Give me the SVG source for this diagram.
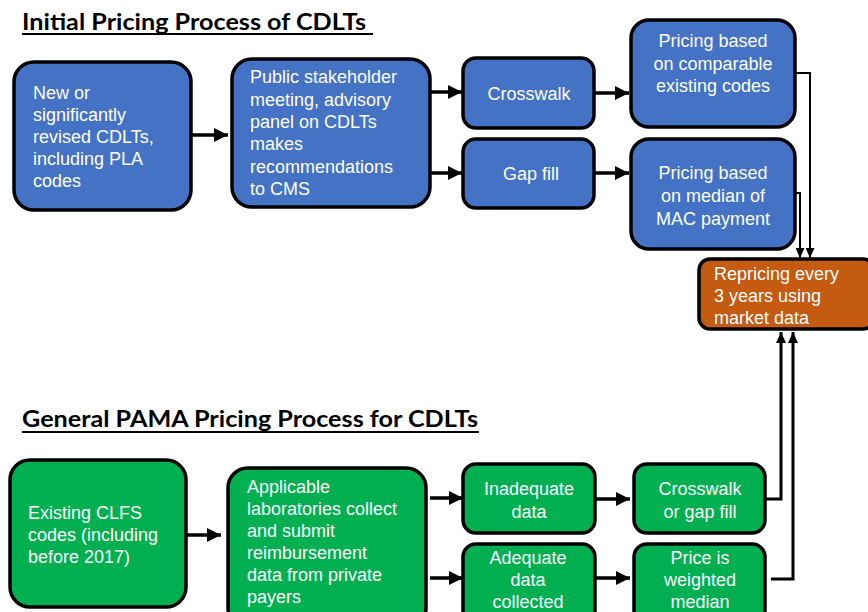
<svg xmlns="http://www.w3.org/2000/svg" width="868" height="612" viewBox="0 0 868 612">
<defs>
<style>
.title{font-family:Lato,"Open Sans","Liberation Sans",sans-serif;font-weight:bold;font-size:23px;fill:#000}
.box{stroke:#000;stroke-width:3.5}
.blue{fill:#4472C4}
.green{fill:#00B050}
.orange{fill:#C55A11}
.t{font-family:"Liberation Sans",Arial,sans-serif;font-size:18px;fill:#fff}
.c{text-anchor:middle}
.thick{stroke:#000;stroke-width:3.5;fill:none}
.thin{stroke:#000;stroke-width:2;fill:none}
.up{stroke:#000;stroke-width:3;fill:none}
</style>
<marker id="ah" viewBox="0 0 14 14" markerWidth="14" markerHeight="14" refX="14" refY="7" orient="auto" markerUnits="userSpaceOnUse"><path d="M0,0 L14,7 L0,14 Z" fill="#000"/></marker>
<marker id="ahs" viewBox="0 0 10 9" markerWidth="10" markerHeight="9" refX="10" refY="4.5" orient="auto" markerUnits="userSpaceOnUse"><path d="M0,0 L10,4.5 L0,9 Z" fill="#000"/></marker>
<marker id="ahu" viewBox="0 0 11 10" markerWidth="11" markerHeight="10" refX="11" refY="5" orient="auto" markerUnits="userSpaceOnUse"><path d="M0,0 L11,5 L0,10 Z" fill="#000"/></marker>
</defs>
<rect width="868" height="612" fill="#fff"/>

<g id="titles">
<text class="title" x="22" y="29.5" textLength="344" lengthAdjust="spacingAndGlyphs">Initial Pricing Process of CDLTs</text>
<line x1="22" y1="34" x2="373" y2="34" stroke="#000" stroke-width="2"/>
<text class="title" x="22" y="427" textLength="456" lengthAdjust="spacingAndGlyphs">General PAMA Pricing Process for CDLTs</text>
<line x1="22" y1="432" x2="479" y2="432" stroke="#000" stroke-width="2"/>
</g>

<g id="connectors">
<line class="thick" x1="192" y1="135" x2="228" y2="135" marker-end="url(#ah)"/>
<line class="thick" x1="430" y1="92" x2="462" y2="92" marker-end="url(#ah)"/>
<line class="thick" x1="430" y1="173" x2="462" y2="173" marker-end="url(#ah)"/>
<line class="thick" x1="595" y1="93" x2="629" y2="93" marker-end="url(#ah)"/>
<line class="thick" x1="595" y1="173" x2="629" y2="173" marker-end="url(#ah)"/>
<polyline class="thin" points="795,73 810,73 810,258" marker-end="url(#ahs)"/>
<polyline class="thin" points="796,193 800,193 800,258" marker-end="url(#ahs)"/>
<line class="thick" x1="187" y1="535" x2="221" y2="535" marker-end="url(#ah)"/>
<line class="thick" x1="430" y1="498" x2="463" y2="498" marker-end="url(#ah)"/>
<line class="thick" x1="430" y1="578" x2="463" y2="578" marker-end="url(#ah)"/>
<line class="thick" x1="596" y1="499" x2="630" y2="499" marker-end="url(#ah)"/>
<line class="thick" x1="596" y1="578" x2="630" y2="578" marker-end="url(#ah)"/>
<polyline class="up" points="766,499 781,499 781,332" marker-end="url(#ahu)"/>
<polyline class="up" points="771,579 793,579 793,332" marker-end="url(#ahu)"/>
</g>

<g id="n1">
<rect class="box blue" x="14" y="62" width="177" height="148" rx="20"/>
<text class="t" x="33"><tspan x="33" y="99">New or</tspan><tspan x="33" y="121">significantly</tspan><tspan x="33" y="143">revised CDLTs,</tspan><tspan x="33" y="165">including PLA</tspan><tspan x="33" y="187">codes</tspan></text>
</g>
<g id="n2">
<rect class="box blue" x="232" y="59" width="198" height="148" rx="20"/>
<text class="t"><tspan x="250" y="83">Public stakeholder</tspan><tspan x="250" y="105.5">meeting, advisory</tspan><tspan x="250" y="128">panel on CDLTs</tspan><tspan x="250" y="150">makes</tspan><tspan x="250" y="172.5">recommendations</tspan><tspan x="250" y="195">to CMS</tspan></text>
</g>
<g id="n3">
<rect class="box blue" x="463" y="58" width="131" height="70" rx="13"/>
<text class="t c" x="529" y="100">Crosswalk</text>
</g>
<g id="n4">
<rect class="box blue" x="463" y="139" width="131" height="69" rx="13"/>
<text class="t c" x="531" y="180">Gap fill</text>
</g>
<g id="n5">
<rect class="box blue" x="631" y="20" width="164" height="107" rx="18"/>
<text class="t c"><tspan x="713" y="47">Pricing based</tspan><tspan x="713" y="70">on comparable</tspan><tspan x="713" y="92">existing codes</tspan></text>
</g>
<g id="n6">
<rect class="box blue" x="631" y="139" width="164" height="110" rx="18"/>
<text class="t c"><tspan x="713" y="179">Pricing based</tspan><tspan x="713" y="202">on median of</tspan><tspan x="713" y="225">MAC payment</tspan></text>
</g>
<g id="n7">
<rect class="box orange" x="699" y="259" width="175" height="70" rx="11"/>
<text class="t"><tspan x="714" y="280">Repricing every</tspan><tspan x="714" y="302">3 years using</tspan><tspan x="714" y="324">market data</tspan></text>
</g>

<g id="m1">
<rect class="box green" x="10" y="460" width="176" height="147" rx="20"/>
<text class="t"><tspan x="28" y="519">Existing CLFS</tspan><tspan x="28" y="541">codes (including</tspan><tspan x="28" y="563">before 2017)</tspan></text>
</g>
<g id="m2">
<rect class="box green" x="228" y="468" width="198" height="160" rx="20"/>
<text class="t"><tspan x="247" y="493">Applicable</tspan><tspan x="247" y="515">laboratories collect</tspan><tspan x="247" y="537">and submit</tspan><tspan x="247" y="559">reimbursement</tspan><tspan x="247" y="581">data from private</tspan><tspan x="247" y="603">payers</tspan></text>
</g>
<g id="m3">
<rect class="box green" x="463" y="464" width="132" height="69" rx="13"/>
<text class="t c"><tspan x="529" y="495">Inadequate</tspan><tspan x="529" y="518">data</tspan></text>
</g>
<g id="m4">
<rect class="box green" x="463" y="544" width="132" height="80" rx="13"/>
<text class="t c"><tspan x="528" y="564">Adequate</tspan><tspan x="528" y="586">data</tspan><tspan x="528" y="608">collected</tspan></text>
</g>
<g id="m5">
<rect class="box green" x="634" y="464" width="131" height="69" rx="13"/>
<text class="t c"><tspan x="700" y="495">Crosswalk</tspan><tspan x="700" y="518">or gap fill</tspan></text>
</g>
<g id="m6">
<rect class="box green" x="634" y="544" width="131" height="80" rx="13"/>
<text class="t c"><tspan x="700" y="564">Price is</tspan><tspan x="700" y="586">weighted</tspan><tspan x="700" y="608">median</tspan></text>
</g>
</svg>
